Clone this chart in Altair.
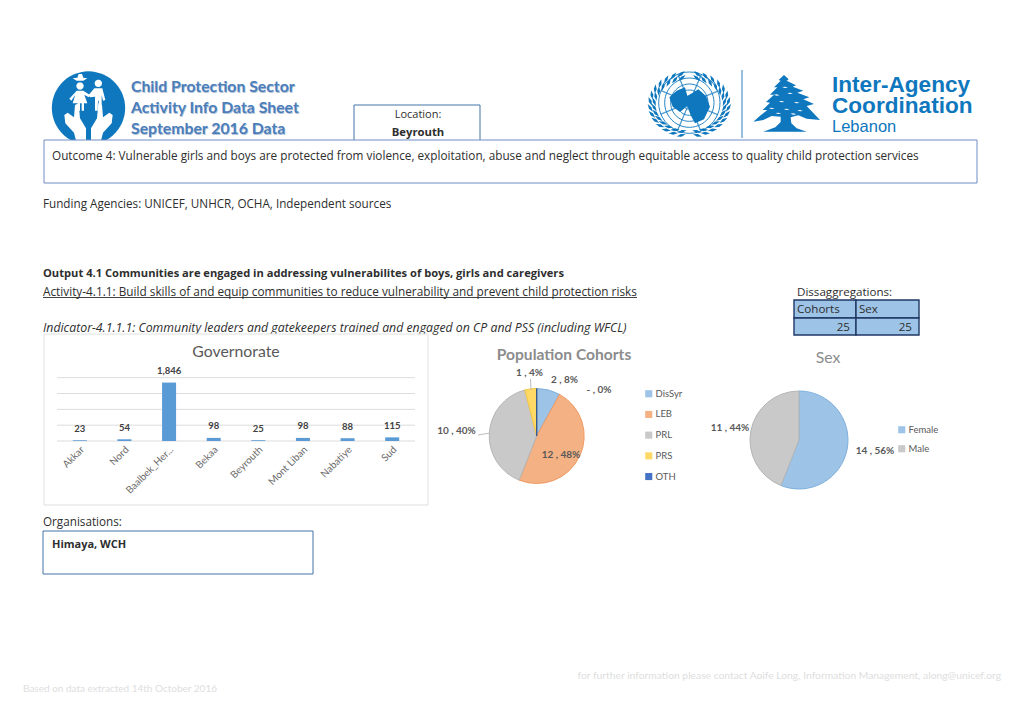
import math
import altair as alt
import pandas as pd

# ---- data ----
gov_names = ["Akkar", "Nord", "Baalbek_Her...", "Bekaa", "Beyrouth", "Mont Liban", "Nabatiye", "Sud"]
gov_values = [23, 54, 1846, 98, 25, 98, 88, 115]
grid_values = [0, 500, 1000, 1500, 2000]
cohort_names = ["DisSyr", "LEB", "PRL", "PRS", "OTH"]
cohort_counts = [2, 12, 10, 1, 0]
cohort_pcts = [8, 48, 40, 4, 0]
sex_names = ["Female", "Male"]
sex_counts = [14, 11]
sex_pcts = [56, 44]

FONT = "Lato"
BODY = "Open Sans"
M = 8  # page margin
ONE = alt.Data(values=[{"a": 1}])
layers = []


def text(x, y, s, size=11, weight="normal", color="#2e2e2e", align="left", font=BODY, style="normal", angle=0):
    layers.append(
        alt.Chart(ONE).mark_text(fontSize=size, fontWeight=weight, color=color, align=align, baseline="middle",
                                 font=font, fontStyle=style, angle=angle)
        .encode(x=alt.value(x - M), y=alt.value(y - M), text=alt.value(s))
    )


def box(x1, y1, x2, y2, stroke="#4472a8", fill="#ffffff", sw=1.0):
    layers.append(
        alt.Chart(ONE).mark_rect(fill=fill, stroke=stroke, strokeWidth=sw)
        .encode(x=alt.value(x1 - M), x2=alt.value(x2 - M), y=alt.value(y1 - M), y2=alt.value(y2 - M))
    )


def line(x1, y1, x2, y2, color="#999999", sw=1.0):
    layers.append(
        alt.Chart(ONE).mark_rule(color=color, strokeWidth=sw)
        .encode(x=alt.value(x1 - M), x2=alt.value(x2 - M), y=alt.value(y1 - M), y2=alt.value(y2 - M))
    )


def shape(polys, color, ox, oy, filled=True, sw=1.0):
    """Artwork drawn as one custom symbol; polys are lists of points measured in the 3x crop at (ox, oy)."""
    xs = [p[0] for poly in polys for p in poly]
    ys = [p[1] for poly in polys for p in poly]
    cx, cy = (min(xs) + max(xs)) / 2, (min(ys) + max(ys)) / 2
    h = max(max(xs) - min(xs), max(ys) - min(ys)) / 2
    path = " ".join(
        "M" + " L".join(f"{(a - cx) / h:.3f},{(b - cy) / h:.3f}" for a, b in poly) + " Z" for poly in polys
    )
    kw = dict(filled=True, fill=color, strokeWidth=0, opacity=1) if filled else dict(
        filled=False, stroke=color, strokeWidth=sw, opacity=1)
    layers.append(
        alt.Chart(ONE).mark_point(shape=path, size=(2 * h / 3) ** 2, **kw)
        .encode(x=alt.value(ox + cx / 3 - M), y=alt.value(oy + cy / 3 - M))
    )


def circle(cx, cy, r, n=36):
    return [(cx + r * math.cos(2 * math.pi * i / n), cy + r * math.sin(2 * math.pi * i / n)) for i in range(n)]


def leaf(cx, cy, ang, ln, wd):
    ca, sa = math.cos(ang), math.sin(ang)
    pts = [(-ln, 0), (0, -wd), (ln, 0), (0, wd)]
    return [(cx + a * ca - b * sa, cy + a * sa + b * ca) for a, b in pts]


# ---- child protection logo (coordinates from the crop at 30,60) ----
BLUE = "#0f77bd"
shape([circle(175.5, 144, 110, 60)], BLUE, 30, 60)
girl = [
    circle(150, 78, 11),
    [(128, 55), (142, 53), (146, 42), (156, 42), (160, 53), (172, 55), (160, 62), (140, 62)],
    [(140, 92), (160, 92), (180, 105), (176, 112), (163, 104), (172, 130), (162, 130), (162, 152), (155, 152),
     (155, 130), (150, 130), (150, 152), (143, 152), (143, 130), (128, 130), (136, 104), (124, 122), (118, 116)],
]
boy = [
    circle(205, 70, 11),
    [(193, 85), (217, 85), (226, 120), (219, 122), (215, 105), (215, 152), (207, 152), (206, 122), (204, 122),
     (203, 152), (195, 152), (195, 110), (180, 112), (176, 105)],
]
left_hand = [(103, 165), (113, 158), (132, 172), (135, 135), (146, 130), (150, 175), (168, 205), (168, 250),
             (140, 250), (132, 218), (106, 190)]
right_hand = [(351 - a, b) for a, b in left_hand]
shape(girl + boy, "#ffffff", 30, 60)
shape([left_hand, right_hand], "#ffffff", 30, 60)

# ---- UN emblem (crop at 630,60) ----
C = (178, 128)
for r in (92, 74, 56, 38, 20):
    shape([circle(C[0], C[1], r, 48)], BLUE, 630, 60, filled=False, sw=0.9)
spokes = []
for k in range(8):
    a = math.pi * k / 4 + math.pi / 8
    spokes.append([(C[0], C[1]), (C[0] + 92 * math.cos(a), C[1] + 92 * math.sin(a)),
                   (C[0] + 92 * math.cos(a + 0.02), C[1] + 92 * math.sin(a + 0.02))])
shape(spokes, BLUE, 630, 60, filled=False, sw=0.6)
continents = [
    [(118, 112), (140, 92), (165, 82), (172, 108), (205, 88), (228, 108), (240, 140), (222, 178), (195, 190),
     (182, 166), (172, 138), (150, 156), (128, 140)],
]
shape(continents, BLUE, 630, 60)
leaves = []
for deg in range(12, 170, 12):
    for sign in (-1, 1):
        a = math.radians(90 + sign * deg)
        for off in (-6, 6):
            leaves.append(leaf(C[0] + (112 + off) * math.cos(a), C[1] + 6 + (88 + off) * math.sin(a),
                               a + sign * 1.1, 14, 4.5))
shape(leaves, BLUE, 630, 60)
line(742, 70, 742, 138, color="#4f93c8", sw=1.2)

# ---- cedar (same crop) ----
cedar = [(462, 45), (476, 58), (470, 62), (498, 76), (488, 80), (520, 92), (502, 98), (538, 112), (520, 118),
         (552, 132), (530, 138), (570, 180), (530, 176), (505, 166), (482, 172), (484, 190), (500, 205), (530, 215),
         (400, 215), (436, 202), (452, 186), (452, 170), (425, 168), (400, 180), (370, 185), (392, 166), (412, 150),
         (398, 150), (420, 128), (408, 126), (432, 104), (420, 104), (442, 82), (432, 82), (452, 62), (446, 60)]
shape([cedar], BLUE, 630, 60)
specks = [leaf(x, y, 0.1, 9, 2) for x, y in [(440, 105), (480, 100), (455, 125), (500, 128), (425, 145), (470, 148),
                                              (510, 152), (445, 160), (490, 162), (465, 82)]]
shape(specks, "#ffffff", 630, 60)

text(832, 84.5, "Inter-Agency", size=22.6, weight="bold", color=BLUE, font="Liberation Sans")
text(832, 106, "Coordination", size=22.6, weight="bold", color=BLUE, font="Liberation Sans")
text(832, 126.5, "Lebanon", size=16.5, color=BLUE, font="Liberation Sans")

# ---- header ----
for yy, s in [(87, "Child Protection Sector"), (108, "Activity Info Data Sheet"), (129, "September 2016 Data")]:
    text(131.7, yy + 0.7, s, size=15.8, weight="bold", color="#b8c4d4", font=FONT)
    text(131, yy, s, size=15.8, weight="bold", color="#4a7ebb", font=FONT)

box(354, 105, 480, 145)
text(418, 115, "Location:", size=11, align="center")
text(418, 133, "Beyrouth", size=11.3, weight="bold", align="center")
box(44, 140, 977, 183, stroke="#6f8cc4")
text(52, 156, "Outcome 4: Vulnerable girls and boys are protected from violence, exploitation, abuse and neglect "
              "through equitable access to quality child protection services", size=11.75)
text(43, 204, "Funding Agencies: UNICEF, UNHCR, OCHA, Independent sources", size=11.7)
text(43, 274, "Output 4.1 Communities are engaged in addressing vulnerabilites of boys, girls and caregivers",
     size=11.15, weight="bold")
text(43, 292, "Activity-4.1.1: Build skills of and equip communities to reduce vulnerability and prevent child "
              "protection risks", size=11.8)
line(43, 297.5, 637, 297.5, color="#2e2e2e", sw=0.9)
text(43, 328, "Indicator-4.1.1.1: Community leaders and gatekeepers trained and engaged on CP and PSS (including WFCL)",
     size=12.3, style="italic")

# ---- disaggregation table ----
text(797, 293, "Dissaggregations:", size=11.6)
box(794, 300, 856, 318, stroke="#1f3864", fill="#9dc3e6", sw=1.4)
box(856, 300, 919, 318, stroke="#1f3864", fill="#9dc3e6", sw=1.4)
box(794, 318, 856, 335, stroke="#1f3864", fill="#9dc3e6", sw=1.4)
box(856, 318, 919, 335, stroke="#1f3864", fill="#9dc3e6", sw=1.4)
text(797, 310, "Cohorts", size=11.6)
text(859, 310, "Sex", size=11.6)
text(850, 328, str(sum(cohort_counts)), size=11.6, align="right")
text(912, 328, str(sum(sex_counts)), size=11.6, align="right")

# ---- bar panel ----
box(44, 334, 428, 505, stroke="#e0e0e0")
text(236, 352, "Governorate", size=15.8, color="#595959", align="center", font=FONT)
gov = pd.DataFrame({"name": gov_names, "value": gov_values})
grid = pd.DataFrame({"g": grid_values})
xs = alt.Scale(domain=gov_names, range=[57.5 - M, 414.5 - M], paddingInner=0.686, paddingOuter=0.343)
ys = alt.Scale(domain=[0, 2000], range=[441 - M, 377.7 - M], nice=False)
layers.append(
    alt.Chart(grid).mark_rule(color="#dcdcdc", strokeWidth=1)
    .encode(y=alt.Y("g:Q", scale=ys, axis=None), x=alt.value(57 - M), x2=alt.value(415 - M))
)
layers.append(
    alt.Chart(gov).mark_bar(color="#5b9bd5")
    .encode(
        x=alt.X("name:N", scale=xs, sort=gov_names, title=None, axis=None),
        y=alt.Y("value:Q", scale=ys, axis=None),
    )
)
layers.append(
    alt.Chart(gov).mark_text(fontSize=9.5, fontWeight="bold", color="#404040", font=FONT, dy=-11.5, baseline="middle")
    .encode(x=alt.X("name:N", scale=xs, sort=gov_names, title=None, axis=None),
            y=alt.Y("value:Q", scale=ys, axis=None),
            text=alt.Text("value:Q", format=","))
)
layers.append(
    alt.Chart(gov).mark_text(fontSize=10, color="#6b6b6b", font=FONT, angle=315, align="right", baseline="middle",
                             dx=4)
    .encode(x=alt.X("name:N", scale=xs, sort=gov_names, title=None, axis=None),
            y=alt.value(451 - M), text=alt.Text("name:N"))
)

# ---- cohort pie ----
cohort = pd.DataFrame({"name": cohort_names, "n": cohort_counts, "i": range(5)})
text(564, 355, "Population Cohorts", size=15.6, weight="bold", color="#8c8c8c", align="center", font=FONT)
layers.append(
    alt.Chart(cohort).mark_arc(radius=47.5, strokeWidth=1)
    .encode(
        x=alt.value(536.7 - M), y=alt.value(436 - M),
        theta=alt.Theta("n:Q", stack=True),
        order=alt.Order("i:Q"),
        color=alt.Color("name:N", sort=cohort_names,
                        scale=alt.Scale(domain=cohort_names,
                                        range=["#9dc3e6", "#f4b183", "#c9c9c9", "#ffd966", "#4472c4"]),
                        legend=alt.Legend(orient="none", legendX=644 - M, legendY=389 - M, title=None,
                                          symbolType="square", symbolSize=50, symbolStrokeWidth=0, labelFontSize=9.5,
                                          labelColor="#595959", labelFont=FONT, rowPadding=9.7, labelOffset=2)),
        stroke=alt.Stroke("name:N", sort=cohort_names, legend=None,
                          scale=alt.Scale(domain=cohort_names,
                                          range=["#7fb0dd", "#f09a62", "#b5b5b5", "#f5c842", "#2f5597"])),
    )
)
cohort_lab = [(564.5, 380, 0), (561, 455, 1), (456.5, 431, 2), (529.5, 373, 3), (599, 390, 4)]
for (lx, ly, i) in cohort_lab:
    head = "-" if cohort_counts[i] == 0 else str(cohort_counts[i])
    text(lx, ly, f"{head} , {cohort_pcts[i]}%", size=10, weight="bold", color="#595959", align="center", font=FONT)
line(478, 435, 490, 433, color="#bdbdbd")
line(530.5, 379, 531, 390, color="#bdbdbd")

# ---- sex pie ----
sex = pd.DataFrame({"name": sex_names, "n": sex_counts, "i": range(2)})
text(828, 358, "Sex", size=15.8, color="#8c8c8c", align="center", font=FONT)
layers.append(
    alt.Chart(sex).mark_arc(radius=49, strokeWidth=1)
    .encode(
        x=alt.value(799 - M), y=alt.value(440 - M),
        theta=alt.Theta("n:Q", stack=True),
        order=alt.Order("i:Q"),
        color=alt.Color("name:N", sort=sex_names,
                        scale=alt.Scale(domain=sex_names, range=["#9dc3e6", "#c9c9c9"]),
                        legend=alt.Legend(orient="none", legendX=897 - M, legendY=425 - M, title=None,
                                          symbolType="square", symbolSize=50, symbolStrokeWidth=0, labelFontSize=9.5,
                                          labelColor="#595959", labelFont=FONT, rowPadding=8, labelOffset=2)),
        stroke=alt.Stroke("name:N", sort=sex_names, legend=None,
                          scale=alt.Scale(domain=sex_names, range=["#7fb0dd", "#b5b5b5"])),
    )
)
text(875, 451, f"{sex_counts[0]} , {sex_pcts[0]}%", size=10, weight="bold", color="#595959", align="center", font=FONT)
text(730, 428, f"{sex_counts[1]} , {sex_pcts[1]}%", size=10, weight="bold", color="#595959", align="center", font=FONT)

# ---- organisations and footer ----
text(43, 522, "Organisations:", size=11.7)
box(43, 531, 313, 574, stroke="#4472a8")
text(52, 545, "Himaya, WCH", size=11, weight="bold")
text(1001, 676, "for further information please contact Aoife Long, Information Management, along@unicef.org",
     size=10.3, color="#dedede", align="right", font=FONT)
text(23, 689, "Based on data extracted 14th October 2016", size=10, color="#dedede", font=FONT)

chart = (
    alt.layer(*layers)
    .resolve_scale(theta="independent", color="independent", stroke="independent")
    .properties(width=1008, height=700, padding=0, autosize=alt.AutoSizeParams(type="none"))
    .configure_view(strokeWidth=0)
)
chart.save("out.html", embed_options={"renderer": "svg", "actions": False})
